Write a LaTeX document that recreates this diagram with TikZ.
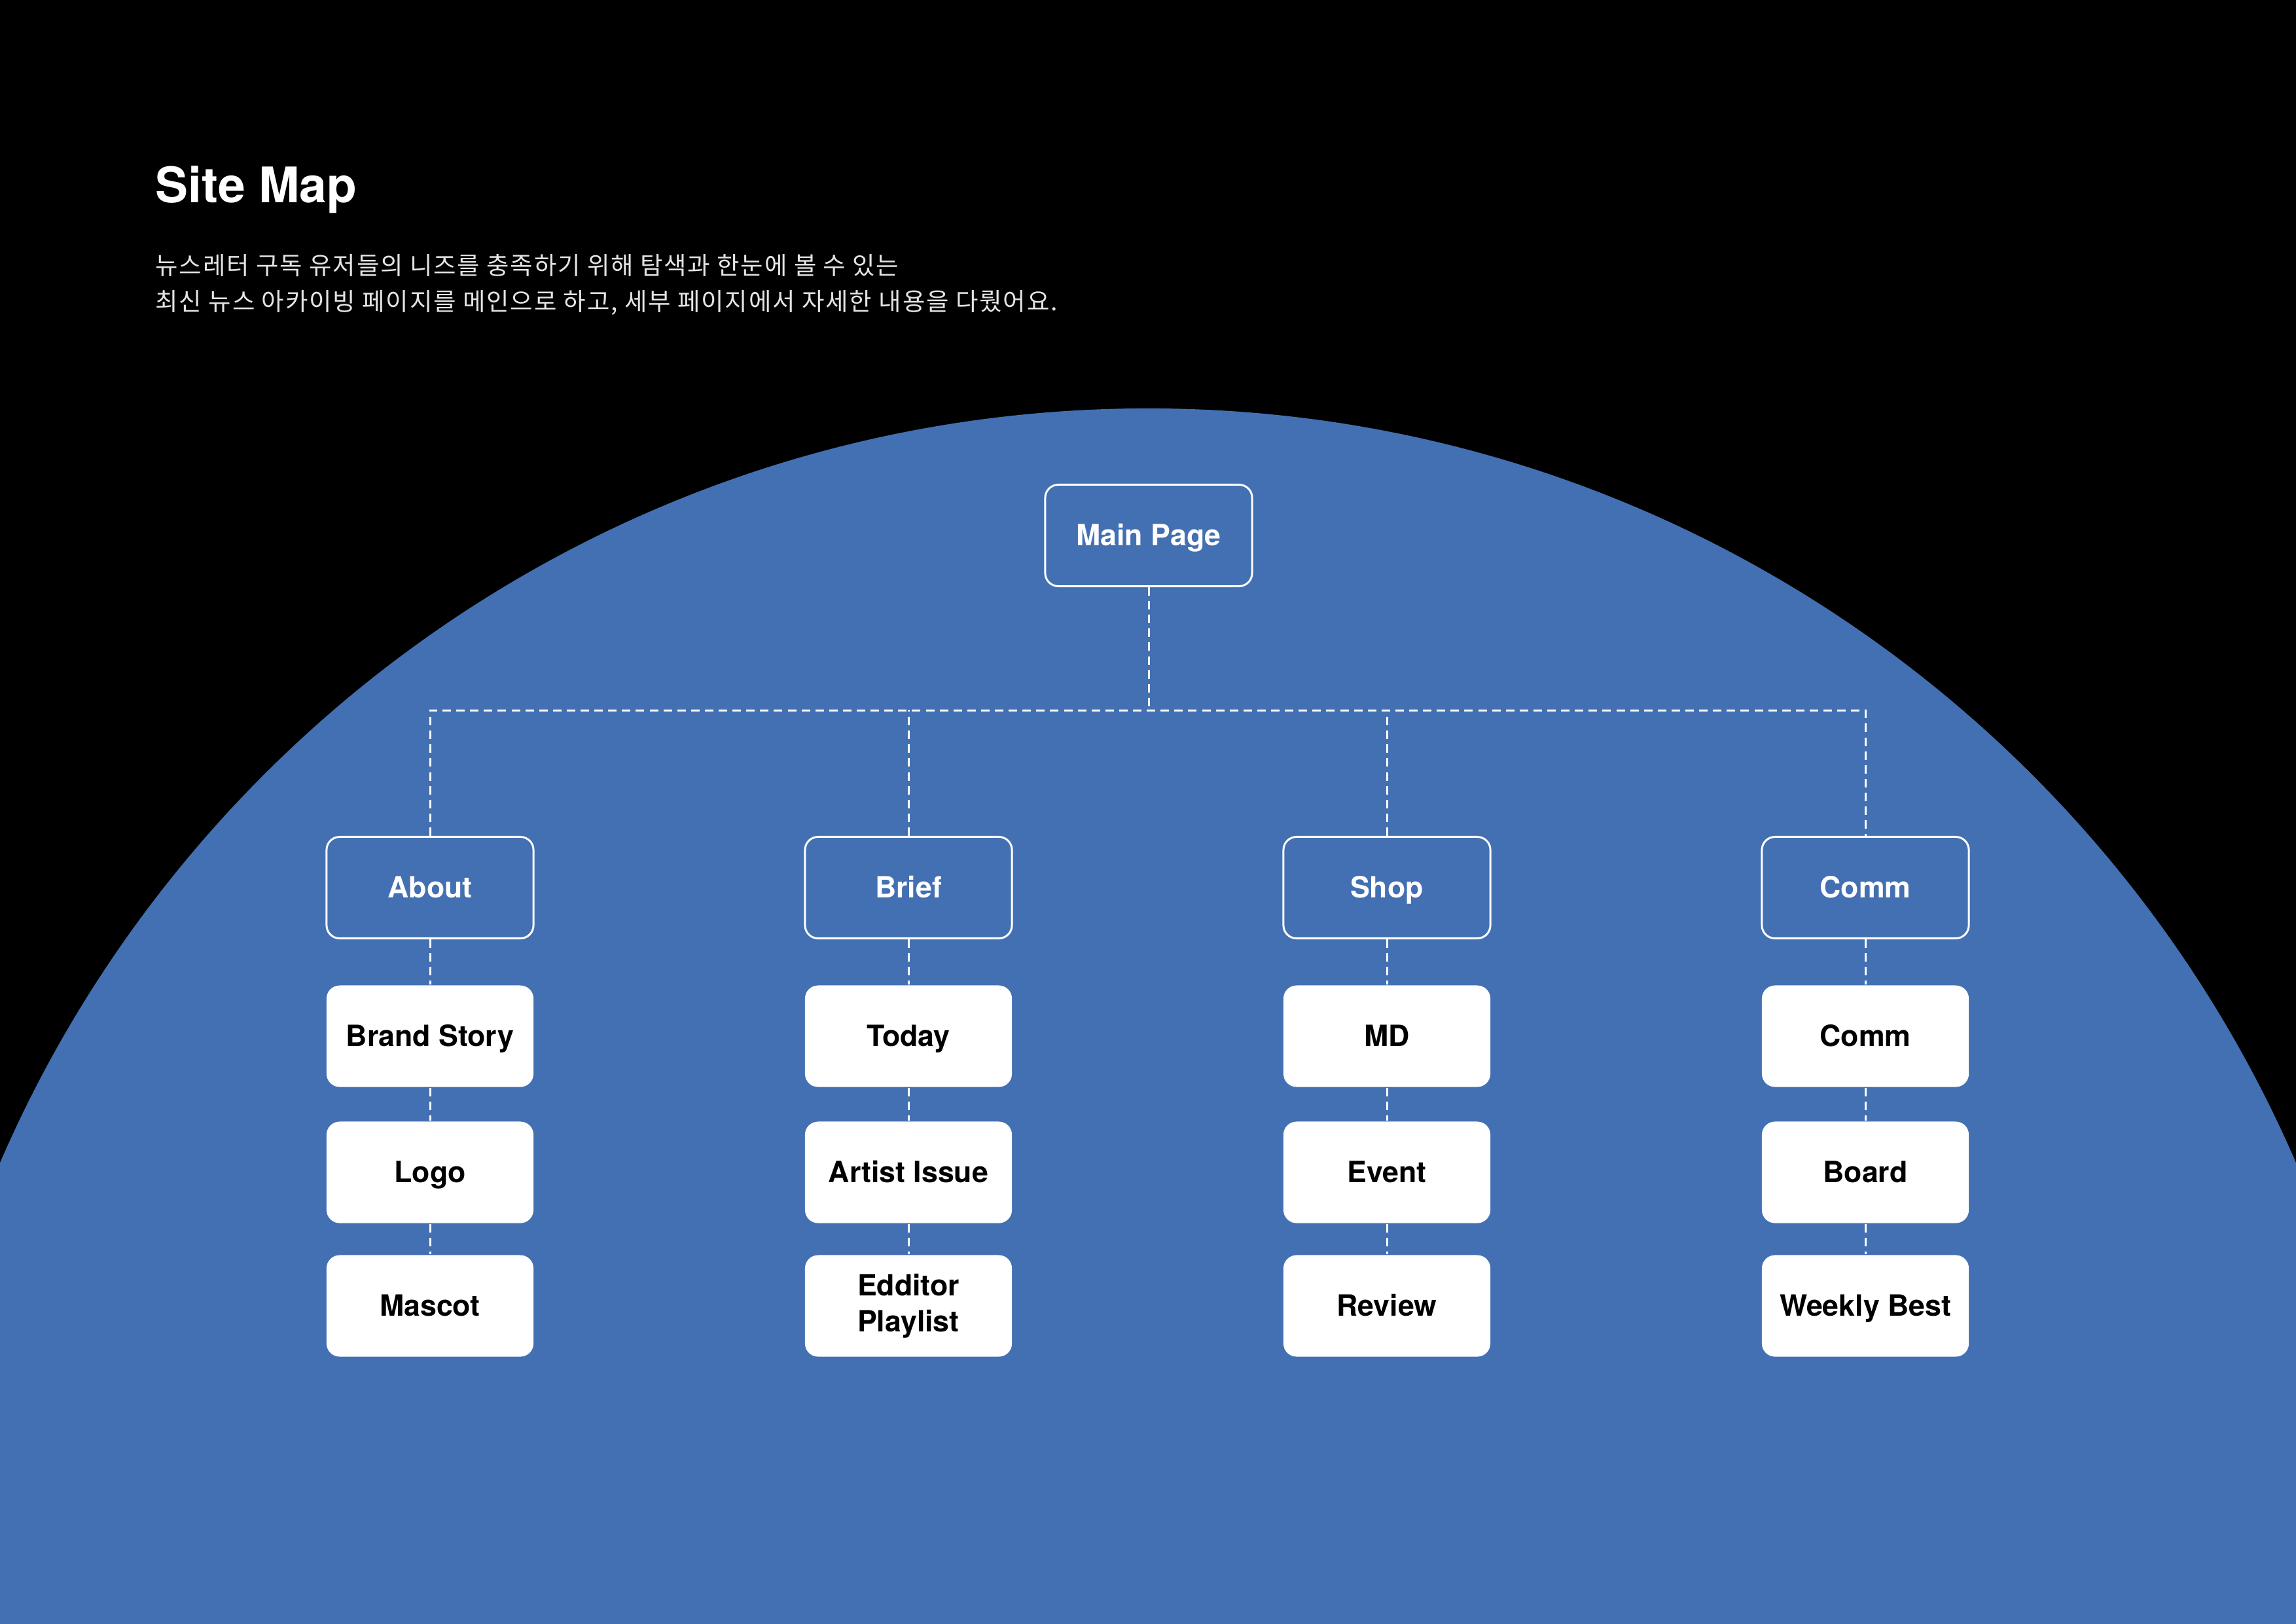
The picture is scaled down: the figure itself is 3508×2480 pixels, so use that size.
\documentclass[tikz,border=0pt]{standalone}
\usepackage{fontspec}
\setmainfont{TeX Gyre Heros}
\newfontfamily\krfont[LetterSpace=5]{Noto Sans CJK KR}
\definecolor{mapblue}{RGB}{67,112,178}
\definecolor{introgray}{RGB}{228,228,228}

\begin{document}
\begin{tikzpicture}[x=0.01cm,y=-0.01cm,
    secbox/.style={draw=white,line width=0.85pt,rounded corners=0.2cm,
      minimum width=3.16cm,minimum height=1.55cm,inner sep=0pt,text=white,
      font=\bfseries\fontsize{12.7}{15.6}\selectfont,text height=9pt,text depth=0pt},
    subbox/.style={secbox,fill=white,draw=none,text=black},
    link/.style={draw=white,line width=0.85pt,dash pattern=on 3.7pt off 2.3pt}]
  \useasboundingbox (0,0) rectangle (3508,2480);
  \fill[black] (0,0) rectangle (3508,2480);
  \begin{scope}
    \clip (0,0) rectangle (3508,2480);
    \fill[mapblue] (1754,2534) circle[radius=19.09cm];
  \end{scope}
  % heading
  \node[anchor=base west,inner sep=0pt,text=white,font=\bfseries\fontsize{21.3}{24}\selectfont] (title) at (237,309) {Site Map};
  \node[anchor=base west,inner sep=0pt,text=introgray,font=\krfont\fontsize{10.65}{12}\selectfont] (intro1) at (237,419) {뉴스레터 구독 유저들의 니즈를 충족하기 위해 탐색과 한눈에 볼 수 있는};
  \node[anchor=base west,inner sep=0pt,text=introgray,font=\krfont\fontsize{10.65}{12}\selectfont] (intro2) at (237,474) {최신 뉴스 아카이빙 페이지를 메인으로 하고, 세부 페이지에서 자세한 내용을 다뤘어요.};
  % main and sections
  \node[secbox] (main) at (1755,818) {Main Page};
  \coordinate (bus) at (1755,1085);
  \node[secbox] (about) at (657,1356) {About};
  \node[secbox] (brief) at (1388,1356) {Brief};
  \node[secbox] (shop) at (2119,1356) {Shop};
  \node[secbox] (comm) at (2850,1356) {Comm};
  % pages
  \node[subbox] (story) at (657,1583) {Brand Story};
  \node[subbox] (logo) at (657,1791) {Logo};
  \node[subbox] (mascot) at (657,1995) {Mascot};
  \node[subbox] (today) at (1388,1583) {Today};
  \node[subbox] (artist) at (1388,1791) {Artist Issue};
  \node[subbox,align=left,text height=,text depth=] (playlist) at (1388,1995) {Edditor\\Playlist};
  \node[subbox] (md) at (2119,1583) {MD};
  \node[subbox] (event) at (2119,1791) {Event};
  \node[subbox] (review) at (2119,1995) {Review};
  \node[subbox] (commpage) at (2850,1583) {Comm};
  \node[subbox] (board) at (2850,1791) {Board};
  \node[subbox] (weekly) at (2850,1995) {Weekly Best};
  % connectors
  \draw[link] (main.south) -- (bus);
  \draw[link] (about.north) -- (about |- bus) -- (comm |- bus) -- (comm.north);
  \draw[link] (brief.north) -- (brief |- bus);
  \draw[link] (shop.north) -- (shop |- bus);
  \foreach \a/\b in {about/story,story/logo,logo/mascot,
      brief/today,today/artist,artist/playlist,
      shop/md,md/event,event/review,
      comm/commpage,commpage/board,board/weekly}
    \draw[link] (\a.south) -- (\b.north);
\end{tikzpicture}
\end{document}
